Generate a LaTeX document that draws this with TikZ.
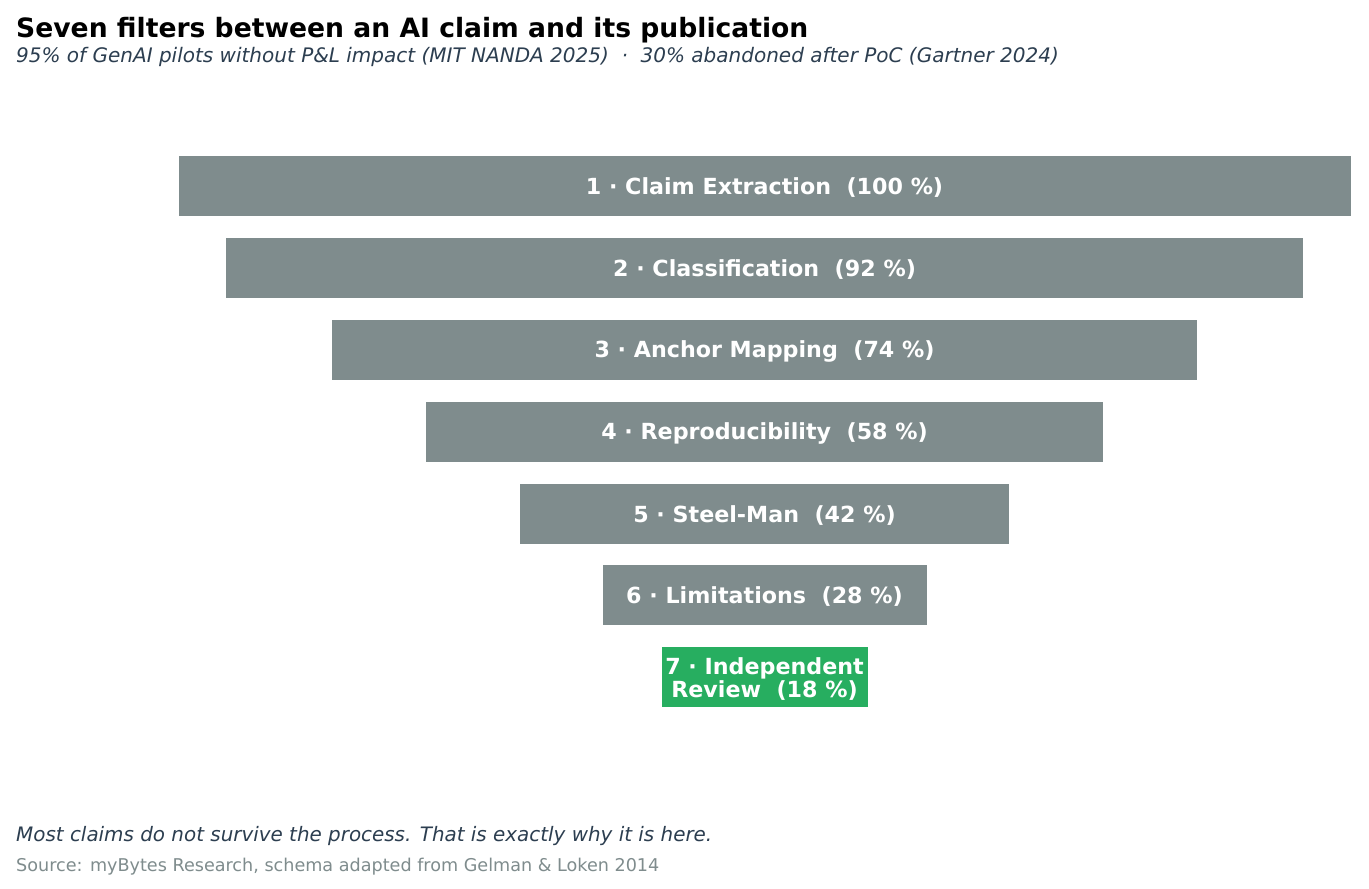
\documentclass[tikz,border=0pt]{standalone}
\usepackage{fontspec}
\setmainfont{DejaVu Sans}
\definecolor{bargray}{HTML}{7F8C8D}
\definecolor{bargreen}{HTML}{27AE60}
\definecolor{darktext}{HTML}{2C3E50}
\definecolor{srcgray}{HTML}{7F8C8D}
\tikzset{
  barbox/.style={fill=bargray, draw=white, line width=0.6pt, inner sep=0pt, outer sep=0pt},
  barlabel/.style={text=white, font=\fontsize{22.2}{23.5}\selectfont\bfseries, align=center, inner sep=0pt},
  txt/.style={anchor=base west, inner sep=0pt},
}
\begin{document}
\begin{tikzpicture}[x=1pt,y=-1pt]
\useasboundingbox (0,0) rectangle (1369,889);
\fill[white] (0,0) rectangle (1369,889);
% title
\node[txt, font=\fontsize{26.6}{30}\selectfont\bfseries] (title) at (16,37) {Seven filters between an AI claim and its publication};
\node[txt, text=darktext, font=\fontsize{20}{22}\selectfont\itshape] (sub) at (16,62) {95\% of GenAI pilots without P\&L impact (MIT NANDA 2025)\ \ ·\ \ 30\% abandoned after PoC (Gartner 2024)};
% bars
\def\cx{764.5}
\foreach \i/\w/\yc/\lab in {1/1173/185.5/{1 · Claim Extraction\ \ (100 \%)},
                            2/1078/267.5/{2 · Classification\ \ (92 \%)},
                            3/866/349.5/{3 · Anchor Mapping\ \ (74 \%)},
                            4/678/431.5/{4 · Reproducibility\ \ (58 \%)},
                            5/490/513.5/{5 · Steel-Man\ \ (42 \%)},
                            6/325/595/{6 · Limitations\ \ (28 \%)}}{
  \draw[barbox] (\cx-\w/2,\yc-30.5) rectangle (\cx+\w/2,\yc+30.5);
  \node[barlabel] (bar\i) at (\cx,\yc+2) {\lab};
}
\draw[barbox, fill=bargreen] (\cx-103.5,677-30.5) rectangle (\cx+103.5,677+30.5);
\node[barlabel] (bar7) at (\cx,679) {7 · Independent\\Review\ \ (18 \%)};
% footer
\node[txt, text=darktext, font=\fontsize{19.9}{22}\selectfont\itshape] (foot) at (16,841) {Most claims do not survive the process. That is exactly why it is here.};
\node[txt, text=srcgray, font=\fontsize{17.6}{20}\selectfont] (src) at (16,871) {Source: myBytes Research, schema adapted from Gelman \& Loken 2014};
\end{tikzpicture}
\end{document}
